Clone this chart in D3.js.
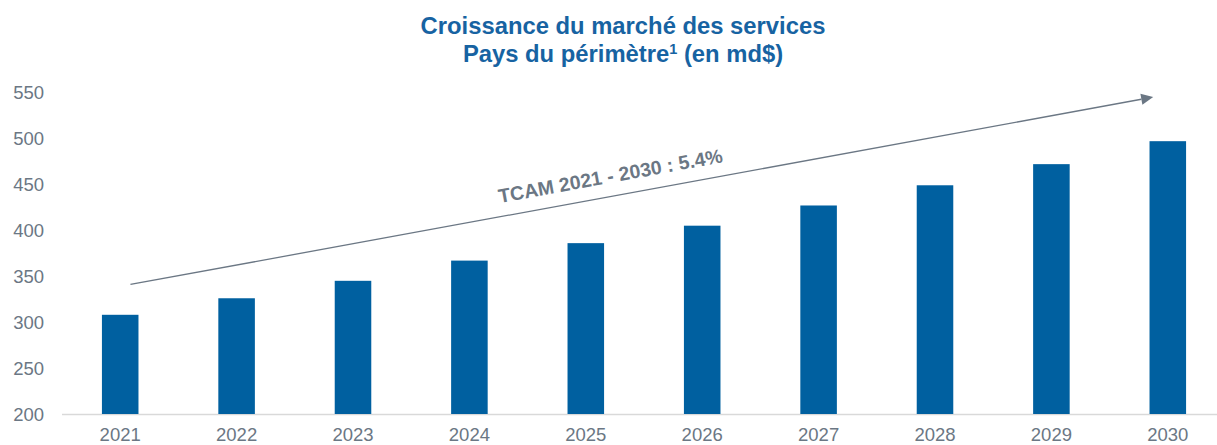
<!DOCTYPE html>
<html>
<head>
<meta charset="utf-8">
<script src="https://cdn.jsdelivr.net/npm/d3@7"></script>
<style>
  html, body { margin: 0; padding: 0; background: #fff; }
  svg { display: block; font-family: "Liberation Sans", Arial, sans-serif; }
</style>
</head>
<body>
<svg id="chart" width="1217" height="445"></svg>
<script>
const years = ["2021", "2022", "2023", "2024", "2025", "2026", "2027", "2028", "2029", "2030"];
const values = [308, 326, 345, 367, 386, 405, 427, 449, 472, 497];
const yTicks = [200, 250, 300, 350, 400, 450, 500, 550];
const titleLines = ["Croissance du marché des services", "Pays du périmètre"];
const titleSup = "1";
const titleTail = " (en md$)";
const arrowStart = ["2021", 341];
const arrowEnd = ["2030", 545];
const arrowLabel = "TCAM 2021 - 2030 : 5.4%";

(function () {
const svg = d3.select("#chart");
const W = 1217, H = 445;
const plotLeft = 62, plotBottom = 414, plotTop = 92.5;

const x = d3.scaleBand().domain(years).range([plotLeft, plotLeft + 1164]).paddingInner(0.686).paddingOuter(0.343);
const y = d3.scaleLinear().domain([200, 550]).range([plotBottom, plotTop]);

const blue = "#0060A0";
const grey = "#6B7784";

// Title
const title = svg.append("g").attr("font-weight", "bold").attr("fill", "#1763A2").attr("text-anchor", "middle");
title.append("text").attr("x", 623).attr("y", 34).attr("font-size", 23.8).text(titleLines[0]);
const t2 = title.append("text").attr("x", 623).attr("y", 62).attr("font-size", 23.8);
t2.append("tspan").text(titleLines[1]);
t2.append("tspan").attr("font-size", 14.5).attr("dy", -8.5).text(titleSup);
t2.append("tspan").attr("dy", 8.5).text(titleTail);

// Y axis (labels only)
const yAxis = d3.axisLeft(y).tickValues(yTicks).tickSize(0).tickPadding(0);
const gy = svg.append("g").attr("transform", `translate(44,0)`).call(yAxis);
gy.select(".domain").remove();
gy.selectAll("text").attr("font-size", 18.5).attr("fill", grey).attr("font-family", "Liberation Sans, Arial, sans-serif").attr("dy", "0.35em");

// baseline
svg.append("line").attr("x1", plotLeft).attr("x2", W).attr("y1", plotBottom + 0.5).attr("y2", plotBottom + 0.5)
  .attr("stroke", "#D9D9D9").attr("stroke-width", 1.5);

// Bars
svg.append("g").selectAll("rect").data(years).join("rect")
  .attr("x", d => x(d)).attr("width", x.bandwidth())
  .attr("y", (d, i) => y(values[i])).attr("height", (d, i) => plotBottom - y(values[i]))
  .attr("fill", blue);

// X axis
const xAxis = d3.axisBottom(x).tickSize(0).tickPadding(0);
const gx = svg.append("g").attr("transform", `translate(0,${plotBottom})`).call(xAxis);
gx.select(".domain").remove();
gx.selectAll("text").attr("font-size", 18.5).attr("fill", grey).attr("font-family", "Liberation Sans, Arial, sans-serif")
  .attr("dy", null).attr("y", 26.5);

// Arrow
const x1 = x(arrowStart[0]) + x.bandwidth() * 0.78, y1 = y(arrowStart[1]);
const x2 = x(arrowEnd[0]) + x.bandwidth() * 0.1, y2 = y(arrowEnd[1]);
const ang = Math.atan2(y2 - y1, x2 - x1);
const headLen = 12, headW = 5.5;
const bx = x2 - headLen * Math.cos(ang), by = y2 - headLen * Math.sin(ang);
svg.append("line").attr("x1", x1).attr("y1", y1).attr("x2", bx).attr("y2", by)
  .attr("stroke", grey).attr("stroke-width", 1.3);
const px = -Math.sin(ang), py = Math.cos(ang);
svg.append("path")
  .attr("d", `M${x2},${y2}L${bx + px * headW},${by + py * headW}L${bx - px * headW},${by - py * headW}Z`)
  .attr("fill", grey);

// Arrow label
const tx = 614;
const tt = (tx - x1) / (x2 - x1);
const ty = y1 + tt * (y2 - y1);
const off = 13.5;
const lx = tx + Math.sin(ang) * off, ly = ty - Math.cos(ang) * off;
svg.append("text")
  .attr("transform", `translate(${lx},${ly}) rotate(${ang * 180 / Math.PI})`)
  .attr("text-anchor", "middle").attr("font-weight", "bold").attr("font-size", 19.5)
  .attr("fill", grey).text(arrowLabel);
})();
</script>
</body>
</html>
